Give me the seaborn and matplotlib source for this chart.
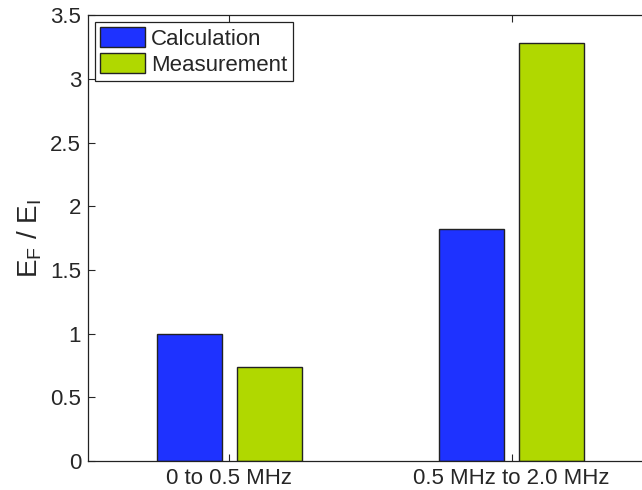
import pandas as pd
import seaborn as sb
import matplotlib.pyplot as plt

# Data
bands = ['0 to 0.5 MHz', '0.5 MHz to 2.0 MHz']
calculation = [1.0, 1.82]
measurement = [0.74, 3.28]

Data = pd.DataFrame({
    'band': bands * 2,
    'ratio': calculation + measurement,
    'kind': ['Calculation'] * len(bands) + ['Measurement'] * len(bands),
})

sb.set_style('ticks')
plt.rcParams['font.family'] = ['Liberation Sans', 'DejaVu Sans']
plt.rcParams['mathtext.fontset'] = 'custom'
plt.rcParams['mathtext.rm'] = 'Liberation Sans'
plt.rcParams['mathtext.it'] = 'Liberation Sans'

fig = plt.figure(figsize=(6.42, 4.9), dpi=100)
ax = fig.add_axes([0.137, 0.059, 0.88, 0.91])

bars = sb.barplot(data=Data, x='band', y='ratio', hue='kind',
                  palette=['#1e32ff', '#b0d800'], saturation=1,
                  width=0.566, gap=0.19,
                  edgecolor='#222222', linewidth=1.0, ax=ax)

ax.set_xlim(-0.5, 1.5)
ax.set_ylim(0, 3.5)
ax.set_yticks([0, 0.5, 1, 1.5, 2, 2.5, 3, 3.5])
ax.set_yticklabels(['0', '0.5', '1', '1.5', '2', '2.5', '3', '3.5'])
ax.set_xlabel('')
ax.set_ylabel(r'$\mathregular{E_F\ /\ E_I}$', fontsize=20, labelpad=4)
ax.tick_params(direction='in', length=5, labelsize=16, top=True, right=False,
               width=0.8, pad=5)
for s in ax.spines.values():
    s.set_linewidth(0.9)
    s.set_color('#222222')
ax.spines['right'].set_visible(False)

leg = ax.legend(loc='upper left', fontsize=16, frameon=True, fancybox=False,
                edgecolor='#222222', framealpha=1, borderpad=0.25,
                handlelength=2.0, handleheight=1.0, handletextpad=0.3,
                labelspacing=0.15, borderaxespad=0.3, title=None)
leg.get_frame().set_linewidth(0.9)

plt.savefig('out.png', dpi=100)
